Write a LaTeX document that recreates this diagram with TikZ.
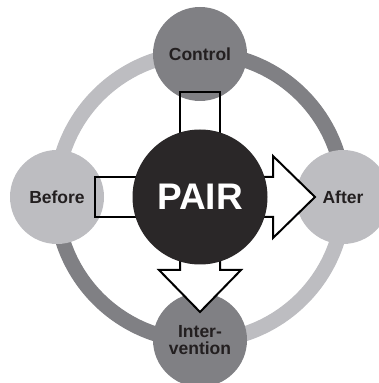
\documentclass[tikz,border=0pt]{standalone}
\usepackage{fontspec}
\setmainfont{Liberation Sans}
\usetikzlibrary{calc}
\definecolor{ringdark}{RGB}{128,128,132}
\definecolor{ringlight}{RGB}{189,189,193}
\definecolor{paircore}{RGB}{42,39,40}
\definecolor{labelink}{RGB}{35,31,32}
\tikzset{
  stage/.style={circle, minimum size=94pt, inner sep=0pt, align=center,
    font=\bfseries\fontsize{17.5}{17}\selectfont, text=labelink},
  ringband/.style={line width=15pt},
  outline/.style={draw=black, line width=2pt, line join=miter},
}
\begin{document}
\begin{tikzpicture}[x=1pt,y=1pt]
  \useasboundingbox (0,0) rectangle (379,383);
  \coordinate (mid) at (200,186);
  % ring
  \draw[ringband, ringdark] (mid) ++(0:144) arc (0:90:144);
  \draw[ringband, ringlight] (mid) ++(90:144) arc (90:180:144);
  \draw[ringband, ringdark] (mid) ++(180:144) arc (180:270:144);
  \draw[ringband, ringlight] (mid) ++(270:144) arc (270:360:144);
  % stages
  \node[stage, fill=ringdark] (control) at ($(mid)+(0,143)$) {Control};
  \node[stage, fill=ringlight] (before) at ($(mid)+(-143,0)$) {Before};
  \node[stage, fill=ringlight] (after) at ($(mid)+(143,0)$) {After};
  \node[stage, fill=ringdark] (interv) at ($(mid)+(0,-143)$) {Inter-\\vention};
  % bars and arrows
  \begin{scope}[shift={(mid)}]
    \foreach \ang in {90,180}
      \draw[outline, rotate=\ang] (40,-20) rectangle (105,20);
    \foreach \ang in {0,-90}
      \draw[outline, fill=white, rotate=\ang]
        (40,20) -- (73,20) -- (73,41) -- (115,0) -- (73,-41) -- (73,-20) -- (40,-20) -- cycle;
  \end{scope}
  % centre
  \node[circle, fill=paircore, minimum size=135pt, inner sep=0pt, text=white,
    font=\bfseries\fontsize{37}{37}\selectfont] (pair) at (mid) {PAIR};
\end{tikzpicture}
\end{document}
